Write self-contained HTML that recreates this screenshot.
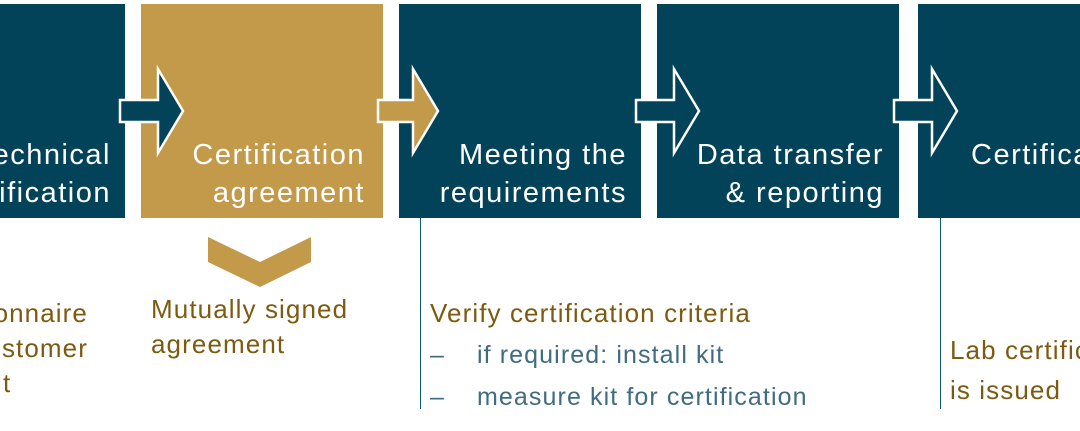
<!DOCTYPE html>
<html><head><meta charset="utf-8"><style>
body{margin:0;width:1080px;height:431px;background:#fff;position:relative;overflow:hidden;font-family:"Liberation Sans",sans-serif}
.b{position:absolute;top:4px;height:214px;background:#02435a}
.t{position:absolute;color:#fff;font-size:29px;letter-spacing:1.5px;text-align:right;line-height:38px;white-space:nowrap}
.g{position:absolute;color:#7d5a10;font-size:26px;letter-spacing:1.1px;line-height:35px;white-space:nowrap}
.s{position:absolute;color:#3f6c80;font-size:25px;letter-spacing:1.1px;line-height:36px;white-space:nowrap}
</style></head><body>
<div class="b" style="left:0;width:125px"></div>
<div class="b" style="left:141px;width:242px;background:#c3994a"></div>
<div class="b" style="left:399px;width:242px"></div>
<div class="b" style="left:657px;width:242px"></div>
<div class="b" style="left:918px;width:162px"></div>
<svg width="1080" height="431" style="position:absolute;left:0;top:0">
<g stroke="#fff" stroke-width="2.5">
<polygon points="120,100 158,100 158,69 183,111 158,153 158,122 120,122" fill="#02435a"/>
<polygon points="378,100 413,100 413,69 438,111 413,153 413,122 378,122" fill="#c3994a"/>
<polygon points="636,100 674,100 674,69 699,111 674,153 674,122 636,122" fill="#02435a"/>
<polygon points="894,100 932,100 932,69 957,111 932,153 932,122 894,122" fill="#02435a"/>
</g>
<polygon points="208,237 260,262 311,237 311,262 260,287 208,262" fill="#c3994a"/>
<line x1="420.5" y1="218" x2="420.5" y2="409" stroke="#0b5a78" stroke-width="1"/>
<line x1="940.5" y1="218" x2="940.5" y2="409" stroke="#0b5a78" stroke-width="1"/>
</svg>
<div style="position:absolute;left:0;top:0;width:1080px;height:431px;overflow:hidden">
<div class="t" style="right:969px;top:136px">echnical<br>ification</div>
<div class="t" style="right:715px;top:136px">Certification<br>agreement</div>
<div class="t" style="right:453px;top:136px">Meeting the<br>requirements</div>
<div class="t" style="right:196px;top:136px">Data transfer<br>&amp; reporting</div>
<div class="t" style="left:971px;top:136px;text-align:left">Certification</div>
<div class="g" style="right:992px;top:296px;text-align:right">onnaire<br>stomer<br><span style="display:inline-block;width:85px;text-align:left">t</span></div>
<div class="g" style="left:151px;top:292px">Mutually signed<br>agreement</div>
<div class="g" style="left:430px;top:296px">Verify certification criteria</div>
<div class="s" style="left:430px;top:337px">–</div><div class="s" style="left:477px;top:337px">if required: install kit</div>
<div class="s" style="left:430px;top:379px">–</div><div class="s" style="left:477px;top:379px">measure kit for certification</div>
<div class="g" style="left:950px;top:330px;line-height:40px">Lab certificate<br>is issued</div>
</div>
</body></html>
